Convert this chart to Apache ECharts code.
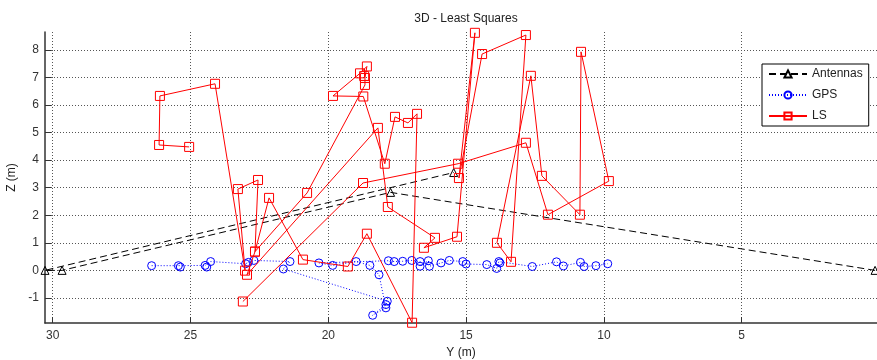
<!DOCTYPE html>
<html>
<head>
<meta charset="utf-8">
<script src="https://cdn.jsdelivr.net/npm/echarts@6/dist/echarts.min.js"></script>
<style>
html, body { margin: 0; padding: 0; background: #fff; }
#chart { width: 877px; height: 360px; }
</style>
</head>
<body>
<div id="chart"></div>
<script>
// Antenna positions (Y, Z) in metres
const antennaY = [0.16, 17.74, 29.66, 30.28, 15.45];
const antennaZ = [0.00, 2.83, 0.00, 0.00, 3.55];

// GPS fixes
const gpsY = [26.41, 25.44, 25.37, 24.47, 24.41, 24.27, 23.00, 22.90, 22.70, 21.39, 21.63,
  17.86, 17.91, 18.39, 17.91, 18.16, 18.49, 18.99, 19.84, 20.34,
  17.82, 17.61, 17.30, 16.97, 16.67, 16.67, 16.37, 16.33, 15.91, 15.61, 15.12, 15.00,
  14.25, 13.89, 13.81, 13.77, 12.60, 11.72, 11.47, 10.85, 10.72, 10.29, 9.86];
const gpsZ = [0.17, 0.17, 0.12, 0.18, 0.12, 0.32, 0.24, 0.29, 0.36, 0.32, 0.05,
  -1.12, -1.24, -1.63, -1.36, -0.16, 0.18, 0.32, 0.18, 0.27,
  0.35, 0.32, 0.33, 0.36, 0.32, 0.15, 0.35, 0.15, 0.27, 0.36, 0.32, 0.23,
  0.21, 0.07, 0.32, 0.27, 0.14, 0.31, 0.16, 0.29, 0.14, 0.17, 0.24];

// Least-squares estimates, in time order
const lsY = [25.05, 26.14, 26.11, 24.11, 23.02, 23.28, 22.55, 22.66, 22.15, 20.92, 19.29,
  18.60, 16.96, 16.78, 17.11, 17.58, 17.95, 18.73, 19.83, 18.85, 18.60, 18.67, 18.70,
  18.67, 20.77, 22.66, 22.95, 18.20, 17.84, 16.13, 16.53, 15.33, 14.68, 15.26, 14.42,
  12.83, 13.37, 13.88, 12.65, 12.25, 10.87, 10.83, 9.82, 12.03, 12.83, 15.29, 18.74, 23.10];
const lsZ = [4.48, 4.55, 6.33, 6.77, -0.01, 2.95, 3.28, 0.68, 2.63, 0.39, 0.14,
  1.33, -1.90, 5.68, 5.35, 5.57, 3.87, 6.31, 6.33, 7.15, 7.40, 6.98, 7.05,
  6.73, 2.81, 0.68, -0.16, 5.17, 2.30, 1.18, 0.82, 1.22, 8.62, 3.35, 7.85,
  8.54, 0.31, 1.00, 7.06, 3.43, 2.02, 7.93, 3.24, 2.02, 4.63, 3.87, 3.17, -1.13];

// Axis ticks
const yTicks = [30, 25, 20, 15, 10, 5];
const zTicks = [-1, 0, 1, 2, 3, 4, 5, 6, 7, 8];

const zip = (a, b) => a.map((v, i) => [v, b[i]]);

const font = 'Liberation Sans, Arial, sans-serif';
const chart = echarts.init(document.getElementById('chart'), null, { renderer: 'canvas' });

const gridLine = { show: true, lineStyle: { color: '#555', type: [1, 2], width: 1 } };

chart.setOption({
  animation: false,
  backgroundColor: '#fff',
  title: {
    text: '3D - Least Squares',
    left: 461, top: 8, textAlign: 'center',
    textStyle: { fontFamily: font, fontSize: 12, fontWeight: 'normal', color: '#222' }
  },
  grid: { left: 45, right: 0, top: 32, bottom: 37, containLabel: false, outerBoundsMode: 'none' },
  xAxis: {
    type: 'value', inverse: true, min: 0.09, max: 30.28,
    name: 'Y (m)', nameLocation: 'middle', nameGap: 23,
    nameTextStyle: { fontFamily: font, fontSize: 12, color: '#222' },
    axisLine: { show: true, onZero: false, lineStyle: { color: '#333', width: 1.5 } },
    axisTick: { show: true, inside: true, length: 6, lineStyle: { color: '#333' },
      customValues: yTicks },
    axisLabel: { fontFamily: font, fontSize: 12, color: '#333', margin: 7,
      customValues: yTicks },
    splitLine: gridLine
  },
  yAxis: {
    type: 'value', min: -1.91, max: 8.65,
    name: 'Z (m)', nameLocation: 'middle', nameGap: 17,
    nameTextStyle: { fontFamily: font, fontSize: 12, color: '#222' },
    axisLine: { show: true, onZero: false, lineStyle: { color: '#333', width: 1.5 } },
    axisTick: { show: true, inside: true, length: 6, lineStyle: { color: '#333' },
      customValues: zTicks },
    axisLabel: { fontFamily: font, fontSize: 12, color: '#333', margin: 6,
      customValues: zTicks },
    splitLine: gridLine
  },
  legend: {
    orient: 'vertical', left: 762, top: 64,
    backgroundColor: '#fff', borderColor: '#000', borderWidth: 1, borderRadius: 0,
    padding: [4, 6, 4, 6], itemWidth: 38, itemHeight: 9, itemGap: 9,
    textStyle: { fontFamily: font, fontSize: 12, color: '#222' },
    data: ['Antennas', 'GPS', 'LS']
  },
  series: [
    {
      name: 'Antennas', type: 'line', data: zip(antennaY, antennaZ),
      symbol: 'triangle', symbolSize: 8, showAllSymbol: true,
      lineStyle: { color: '#000', width: 1, type: [7, 4] },
      itemStyle: { color: 'transparent', borderColor: '#000', borderWidth: 1 },
      z: 3
    },
    {
      name: 'GPS', type: 'line', data: zip(gpsY, gpsZ),
      symbol: 'circle', symbolSize: 8, showAllSymbol: true,
      lineStyle: { color: '#0000ff', width: 1, type: [1, 2] },
      itemStyle: { color: 'transparent', borderColor: '#0000ff', borderWidth: 1 },
      z: 4
    },
    {
      name: 'LS', type: 'line', data: zip(lsY, lsZ),
      symbol: 'rect', symbolSize: 9, showAllSymbol: true,
      lineStyle: { color: '#ff0000', width: 1 },
      itemStyle: { color: 'transparent', borderColor: '#ff0000', borderWidth: 1 },
      z: 5
    }
  ]
});
</script>
</body>
</html>
